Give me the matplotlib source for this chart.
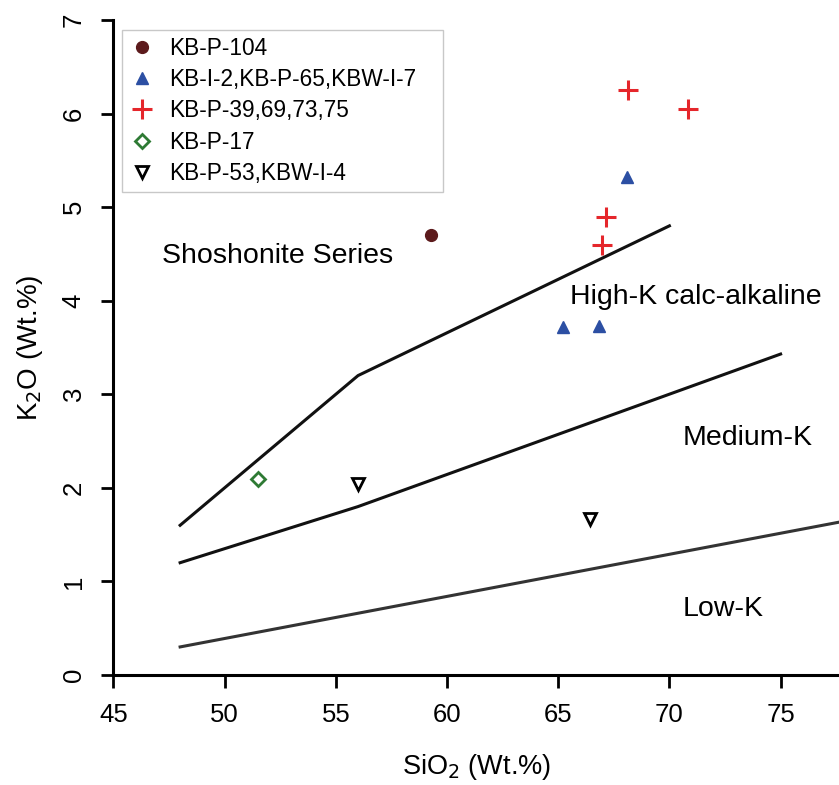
import matplotlib.pyplot as plt

plt.rcParams['font.family'] = ['Liberation Sans', 'DejaVu Sans']

# sample groups (SiO2, K2O)
p104_x = [59.3]
p104_y = [4.70]
tri_x = [68.1, 65.2, 66.85]
tri_y = [5.32, 3.72, 3.73]
cross_x = [68.15, 70.85, 67.15, 66.95]
cross_y = [6.25, 6.05, 4.90, 4.60]
p17_x = [51.5]
p17_y = [2.09]
p53_x = [56.0, 66.45]
p53_y = [2.04, 1.67]

# series boundaries (Peccerillo & Taylor)
sho_x = [48, 56, 70]
sho_y = [1.6, 3.2, 4.8]
hk_x = [48, 56, 75]
hk_y = [1.2, 1.8, 3.43]
lk_x = [48, 78]
lk_y = [0.3, 1.65]

fig = plt.figure(figsize=(8.39, 7.85), dpi=100)
ax = fig.add_axes([113.4 / 839, 1 - 675 / 785, 1 - 113.4 / 839, (675 - 20) / 785])

ax.plot(sho_x, sho_y, color='#111111', lw=2.2)
ax.plot(hk_x, hk_y, color='#111111', lw=2.2)
ax.plot(lk_x, lk_y, color='#333333', lw=2.2)

ax.plot(p104_x, p104_y, 'o', color='#5c1a1c', ms=8.5, label='KB-P-104')
ax.plot(tri_x, tri_y, '^', color='#2c4fa3', ms=8.5, label='KB-I-2,KB-P-65,KBW-I-7')
ax.plot(cross_x, cross_y, '+', color='#e5262b', ms=14, mew=2.2, label='KB-P-39,69,73,75')
ax.plot(p17_x, p17_y, 'D', mfc='none', mec='#2e7a34', ms=7, mew=2, label='KB-P-17')
ax.plot(p53_x, p53_y, 'v', mfc='none', mec='black', ms=9, mew=2, label='KB-P-53,KBW-I-4')

ax.text(52.4, 4.48, 'Shoshonite Series', fontsize=20.5, ha='center', va='center')
ax.text(71.2, 4.04, 'High-K calc-alkaline', fontsize=20.5, ha='center', va='center')
ax.text(73.5, 2.53, 'Medium-K', fontsize=20.5, ha='center', va='center')
ax.text(72.4, 0.71, 'Low-K', fontsize=20.5, ha='center', va='center')

ax.set_xlim(45, 45 + (839 - 113.4) / 22.24)
ax.set_ylim(0, 7)
ax.set_xticks([45, 50, 55, 60, 65, 70, 75])
ax.set_yticks(range(8))
for lbl in ax.get_yticklabels():
    lbl.set_rotation(90)
    lbl.set_va('center')
ax.tick_params(length=9, width=2, labelsize=18.5, pad=11)
ax.spines['top'].set_visible(False)
ax.spines['right'].set_visible(False)
ax.spines['left'].set_linewidth(2.2)
ax.spines['bottom'].set_linewidth(2.2)
for s in ax.spines.values():
    s.set_clip_on(False)

ax.set_xlabel('SiO$_2$ (Wt.%)', fontsize=19.5, labelpad=18)
ax.set_ylabel('K$_2$O (Wt.%)', fontsize=20, labelpad=12)

leg = ax.legend(loc='upper left', bbox_to_anchor=(0.0119, 0.5, 0.4424, 0.485),
                mode='expand', borderaxespad=0, fontsize=16.3,
                frameon=True, fancybox=False, edgecolor='#bbbbbb',
                handletextpad=0.6, labelspacing=0.37, borderpad=0.3,
                handlelength=1.2, numpoints=1)
leg.get_frame().set_linewidth(1)

fig.savefig('out.png', dpi=100)
